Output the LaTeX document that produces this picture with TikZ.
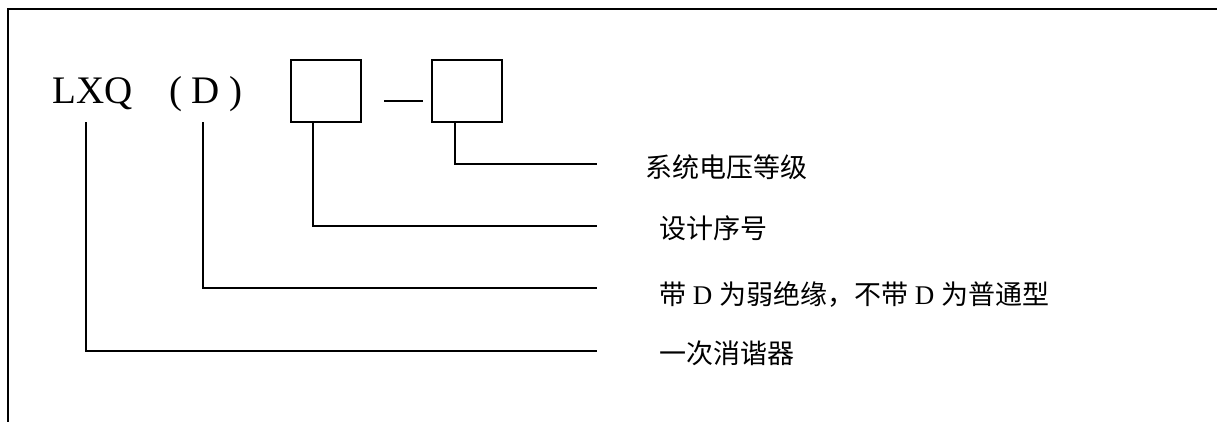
\documentclass[tikz,border=0pt]{standalone}
\usepackage{fontspec}
\setmainfont{Liberation Serif}
\newfontfamily\cjk{Noto Sans CJK SC}
\begin{document}
\begin{tikzpicture}[x=1pt,y=-1pt,
  frameline/.style={line width=2pt,line cap=rect},
  leader/.style={line width=1.9pt},
  codebox/.style={draw,line width=1.9pt,minimum width=70pt,minimum height=62pt,inner sep=0pt,outer sep=0pt},
  codetext/.style={font=\fontsize{39}{44}\selectfont,inner sep=0pt,anchor=base west},
  labeltext/.style={font=\fontsize{27}{32}\selectfont,inner sep=0pt,anchor=west}]
\useasboundingbox (0,0) rectangle (1217,421);
% frame
\coordinate (fb) at (8.3,421);
\coordinate (fc) at (8.3,9);
\coordinate (fr) at (1217,9);
\draw[frameline] (fb) -- (fc) -- (fr);
% code
\node[codetext] (lxq) at (52,103) {LXQ};
\node[codetext] (dd) at (169,103) {( D )};
\node[codebox] (b1) at (326,90.85) {};
\node[codebox] (b2) at (466.85,90.85) {};
\coordinate (d1) at (384,101);
\coordinate (d2) at (423,101);
\draw[leader] (d1) -- (d2);
% labels
\node[labeltext] (l1) at (645,167) {\cjk 系统电压等级};
\node[labeltext] (l2) at (659,228) {\cjk 设计序号};
\node[labeltext] (l3) at (659,294) {{\cjk 带} D {\cjk 为弱绝缘，不带} D {\cjk 为普通型}};
\node[labeltext] (l4) at (659,353) {\cjk 一次消谐器};
% leader ends
\coordinate (e1) at (597,163.7);
\coordinate (e2) at (597,226);
\coordinate (e3) at (597,288);
\coordinate (e4) at (597,350.7);
\coordinate (s4) at (86,122);
\coordinate (s3) at (203.3,122);
\draw[leader] ([xshift=22.7pt]b2.south west) |- (e1);
\draw[leader] ([xshift=22.3pt]b1.south west) |- (e2);
\draw[leader] (s3) |- (e3);
\draw[leader] (s4) |- (e4);
\end{tikzpicture}
\end{document}
